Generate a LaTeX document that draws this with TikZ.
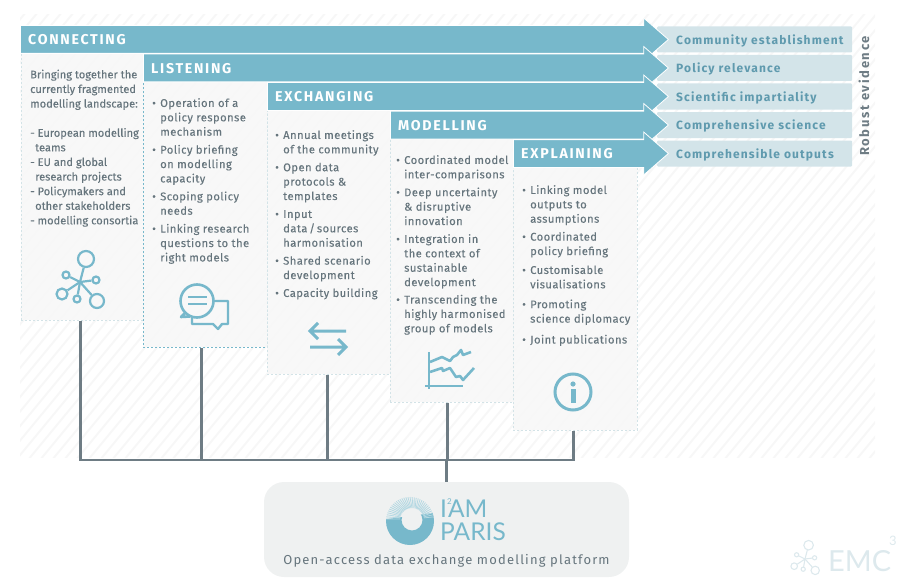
\documentclass[tikz,border=0pt]{standalone}
\usepackage{fontspec}
\setmainfont{Fira Sans}
\newfontfamily\tightFont[FakeBold=.12]{Fira Sans}
\newfontfamily\bodyFont[LetterSpace=4,FakeBold=.12]{Fira Sans}
\newfontfamily\barFont[LetterSpace=12]{Fira Sans}
\newfontfamily\rowFont[LetterSpace=9.5]{Fira Sans}
\newfontfamily\sideFont[LetterSpace=13]{Fira Sans}
\newfontfamily\platformFont[LetterSpace=9]{Fira Sans}
\newfontfamily\logoFont{Lato}
\usetikzlibrary{positioning,calc,shapes.arrows}
\definecolor{barTeal}{HTML}{77B8CB}
\definecolor{rowPale}{HTML}{D3E4E9}
\definecolor{rowText}{HTML}{5F9AAE}
\definecolor{bodyGray}{HTML}{66757D}
\definecolor{linkGray}{HTML}{6E7C84}
\definecolor{cardFill}{HTML}{F7F7F7}
\definecolor{cardEdge}{HTML}{D3E3E7}
\definecolor{hatchGray}{HTML}{F7F7F7}
\definecolor{platformFill}{HTML}{EFF1F1}
\definecolor{emcPale}{HTML}{DDE9ED}
\newcommand{\bul}{\makebox[8pt][l]{\textbullet}}
\newcommand{\ind}{\hspace*{8pt}}

\begin{document}
\begin{tikzpicture}[x=1pt, y=-1pt,
          card/.style={draw=cardEdge, dash pattern=on 2pt off 2pt, line width=.7pt, fill=cardFill, fill opacity=.85, anchor=north west, inner sep=0pt},
          cardText/.style={inner sep=0pt, font=\bodyFont\fontsize{11.2}{14.4}\selectfont, text=bodyGray, align=left},
          rowBox/.style={fill=rowPale, rounded corners=1pt, anchor=west, minimum width=195pt, minimum height=26pt, inner sep=0pt},
          rowLabel/.style={inner sep=0pt, yshift=-1pt, font=\rowFont\bfseries\fontsize{12}{13}\selectfont, text=rowText},
          barArrow/.style={single arrow, fill=barTeal, draw=white, line width=.8pt, anchor=tail, inner sep=0pt, single arrow head extend=7.5pt, single arrow tip angle=82},
          barLabel/.style={inner sep=0pt, yshift=-.5pt, font=\barFont\bfseries\fontsize{14.2}{15}\selectfont, text=white},
          link/.style={draw=linkGray, line width=2.5pt},
          iconLine/.style={draw=barTeal, line width=2.6pt},
          hubIcon/.pic={
            \foreach \i/\px/\py/\d in {1/6/-23/16, 2/16/-2/7, 3/-14/-7/7, 4/-18/12/11, 5/-3/17/7, 6/17/19/14} {
              \node[circle, draw, transform shape, minimum size=\d pt, inner sep=0pt] (-\i) at (\px,\py) {};
              \draw (0,0) -- (-\i);
            }
          }]
        \useasboundingbox (0,0) rectangle (900,578);
        \begin{scope}
          \clip (20,15) rectangle (875,457);
          \foreach \x in {12,24,...,1250} { \draw[hatchGray, line width=2pt] (\x,0) -- (\x-380,460); }
        \end{scope}
        % outcomes on the right
        \foreach \i/\y/\t in {1/39.5/Community establishment, 2/68/Policy relevance, 3/96.5/Scientific impartiality, 4/125/Comprehensive science, 5/153.5/Comprehensible outputs} {
          \node[rowBox] (row\i) at (657,\y) {};
          \node[rowLabel, right=19pt of row\i.west] (rowText\i) {\t};
        }
        \node[rotate=90, inner sep=0pt, text=linkGray, font=\sideFont\bfseries\fontsize{13}{14}\selectfont] (robust) at (864,96) {Robust evidence};
        % cards
        \node[card, minimum width=122pt, minimum height=267pt] (connecting) at (21,53) {};
        \node[card, minimum width=124pt, minimum height=292pt, draw=barTeal] (listening) at (143,55) {};
        \node[card, minimum width=123pt, minimum height=291pt] (exchanging) at (267,83) {};
        \node[card, minimum width=123pt, minimum height=290pt] (modelling) at (390,112) {};
        \node[card, minimum width=124pt, minimum height=290pt] (explaining) at (513,140) {};
        % arrows over the cards
        \foreach \a/\x/\y/\t in {connecting/20/39.5/CONNECTING, listening/143/68/LISTENING, exchanging/267/96.5/EXCHANGING, modelling/390/125/MODELLING, explaining/513/153.5/EXPLAINING} {
          \node[barArrow, minimum height=648pt+20pt-\x pt] (bar\t) at (\x,\y) {\rule{0pt}{27pt}};
          \node[barLabel, right=8pt of bar\t.tail] (label\t) {\t};
        }
        \node[cardText, font=\tightFont\fontsize{11.1}{14.6}\selectfont, below right=16.5pt and 9pt of connecting.north west] (connectingText) {Bringing together the\\ currently fragmented\\ modelling landscape:\\[14.6pt] - European modelling\\ \hspace*{5pt}teams\\ - EU and global\\ \hspace*{5pt}research projects\\ - Policymakers and\\ \hspace*{5pt}other stakeholders\\ - modelling consortia};
        \node[cardText, below right=43pt and 9pt of listening.north west] (listeningText) {\bul Operation of a\\ \ind policy response\\ \ind mechanism\\[3.5pt] \bul Policy briefing\\ \ind on modelling\\ \ind capacity\\[3.5pt] \bul Scoping policy\\ \ind needs\\[3.5pt] \bul Linking research\\ \ind questions to the\\ \ind right models};
        \node[cardText, below right=47pt and 8pt of exchanging.north west] (exchangingText) {\bul Annual meetings\\ \ind of the community\\[3.5pt] \bul Open data\\ \ind protocols \&\\ \ind templates\\[3.5pt] \bul Input\\ \ind data\,/\,sources\\ \ind harmonisation\\[3.5pt] \bul Shared scenario\\ \ind development\\[3.5pt] \bul Capacity building};
        \node[cardText, below right=43pt and 6pt of modelling.north west] (modellingText) {\bul Coordinated model\\ \ind inter-comparisons\\[3.5pt] \bul Deep uncertainty\\ \ind \& disruptive\\ \ind innovation\\[3.5pt] \bul Integration in\\ \ind the context of\\ \ind sustainable\\ \ind development\\[3pt] \bul Transcending the\\ \ind highly harmonised\\ \ind group of models};
        \node[cardText, below right=45pt and 9pt of explaining.north west] (explainingText) {\bul Linking model\\ \ind outputs to\\ \ind assumptions\\[3.5pt] \bul Coordinated\\ \ind policy briefing\\[4.5pt] \bul Customisable\\ \ind visualisations\\[5.5pt] \bul Promoting\\ \ind science diplomacy\\[6.5pt] \bul Joint publications};
        % icons
        \pic[color=barTeal, line width=2.2pt] (hubMain) at (80,282) {hubIcon};
        \draw[iconLine] (197,301) circle[radius=16.5];
        \draw[iconLine] (188,297) -- (207,297) (188,304) -- (207,304);
        \draw[iconLine, line join=round] (185,313) -- (181,317) -- (190,316.5);
        \draw[iconLine, line width=2.4pt, line join=round] (213,301) -- (228,301) -- (228,324) -- (222,324) -- (218,329) -- (213,324) -- (192,324) -- (192,318);
        \draw[iconLine, line width=3pt] (346,331) -- (310,331) (318,323) -- (310,331) -- (318,339);
        \draw[iconLine, line width=3pt] (310,347) -- (346,347) (338,339) -- (346,347) -- (338,355);
        \draw[iconLine] (429,352) -- (429,389) (425,386) -- (463,386);
        \draw[iconLine, line join=round] (430,362) -- (442,357) -- (450,361) -- (453,357) -- (457,355) -- (461,350) -- (463,355) -- (471,352);
        \draw[iconLine, line join=round] (430,372) -- (442,368) -- (443,371) -- (450,368) -- (456,377) -- (460,376) -- (463,380) -- (474,368);
        \draw[iconLine, line width=3pt] (573,392) circle[radius=18];
        \draw[iconLine, line width=5pt] (573,389) -- (573,403);
        \fill[barTeal] (573,384) circle[radius=2.6];
        % platform and links
        \node[fill=platformFill, rounded corners=20pt, minimum width=365pt, minimum height=95pt, inner sep=0pt] (platform) at (446.5,529.5) {};
        \coordinate (bus) at (447,460);
        \foreach \a/\dx in {connecting/-2, listening/-4, exchanging/-1.5, modelling/-4.5, explaining/-2} {
          \draw[link] ($(\a.south)+(\dx,0)$) |- (bus);
        }
        \draw[link] (platform.north) -- (platform.north |- bus);
        \begin{scope}
          \clip (380,520) -- (440,512) -- (440,550) -- (380,550) -- cycle;
          \fill[barTeal, even odd rule] (410,521) circle[radius=24] (412,520) circle[radius=10.5];
        \end{scope}
        \foreach \a in {185,190,...,350} {
          \draw[barTeal!55, line width=.8pt] ($(412,520)+(\a:12)$) -- ($(410,521)+(\a:24)$);
        }
        \node[inner sep=0pt, anchor=base west, text=barTeal, font=\logoFont\fontsize{24.5}{24}\selectfont] (logoTop) at (440,517) {I\rlap{\raisebox{13pt}{\fontsize{8}{8}\selectfont 2}}\hspace{1pt}AM};
        \node[inner sep=0pt, anchor=base west, text=barTeal, font=\logoFont\fontsize{24.5}{24}\selectfont] (logoBottom) at (440,540) {PARIS};
        \node[inner sep=0pt, text=bodyGray, font=\platformFont\fontsize{13}{14}\selectfont] (platformText) at (446.5,561) {Open-access data exchange modelling platform};
        \pic[color=emcPale, line width=1.1pt, scale=.6] (hubSmall) at (805,559) {hubIcon};
        \node[inner sep=0pt, anchor=base west, text=emcPale, font=\logoFont\fontsize{29}{30}\selectfont] (emc) at (828,571) {EMC};
        \node[inner sep=0pt, text=emcPale, font=\logoFont\fontsize{13}{13}\selectfont] (emcThree) at (893,541) {3};
      \end{tikzpicture}
\end{document}
